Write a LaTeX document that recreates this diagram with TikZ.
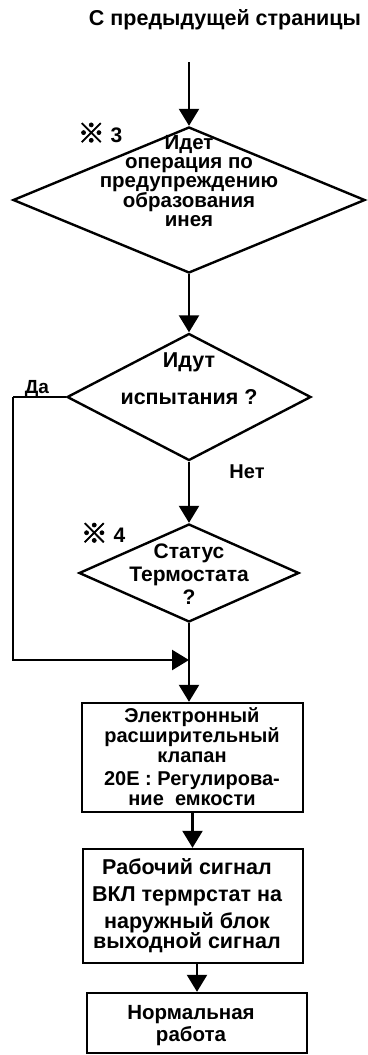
\documentclass[tikz,border=0pt]{standalone}
\usepackage{fontspec}
\setmainfont{Liberation Sans}
\newfontfamily\cjk[FakeBold=2.5]{Noto Sans CJK JP}
\usetikzlibrary{shapes.geometric,arrows.meta}
\tikzset{
  line/.style={line width=2.4pt},
  arr/.style={line width=2.4pt,-{Triangle[width=20pt,length=17pt]}},
  dia/.style={shape=diamond,draw,line width=2.4pt,inner sep=0pt},
  box/.style={draw,line width=2.4pt,inner sep=0pt},
  txt/.style={align=center,inner sep=0pt},
}
\newcommand{\refmark}{{\cjk\fontsize{27}{27}\selectfont ※}}
\begin{document}
\begin{tikzpicture}[x=1pt,y=-1pt]
\useasboundingbox (0,0) rectangle (367,1055);
% title
\node[txt,font=\fontsize{21.5}{25}\selectfont\bfseries] (title) at (225,20) {С предыдущей страницы};
\coordinate (start) at (189,62);
% diamond 1
\node[dia,minimum width=352pt,minimum height=146pt] (d1) at (189,200) {};
\node[txt,font=\fontsize{20.5}{19}\selectfont\bfseries] (t1) at (189,181) {Идет\\операция по\\предупреждению\\образования\\инея};
\node[txt,font=\fontsize{21}{22}\selectfont\bfseries] (n3) at (100,133) {\refmark\ 3};
% diamond 2
\node[dia,minimum width=244pt,minimum height=127pt] (d2) at (189,397) {};
\node[txt,font=\fontsize{21.5}{37}\selectfont\bfseries] (t2) at (189,379) {Идут\\испытания ?};
% diamond 3
\node[dia,minimum width=220pt,minimum height=98pt] (d3) at (189,573) {};
\node[txt,font=\fontsize{21}{23}\selectfont\bfseries] (t3) at (189,574) {Статус\\Термостата\\?};
\node[txt,font=\fontsize{21}{22}\selectfont\bfseries] (n4) at (103,533) {\refmark\ 4};
% boxes
\node[box,minimum width=221pt,minimum height=109pt] (b1) at (192.5,757.5) {};
\node[txt,font=\fontsize{20}{20}\selectfont\bfseries] (tb1) at (192,757) {Электронный\\расширительный\\клапан\\[3pt]20E : Регулирова-\\ние\ \ емкости};
\node[box,minimum width=220pt,minimum height=114pt] (b2) at (193,906) {};
\node[txt,font=\fontsize{21.5}{27}\selectfont\bfseries] (tb2) at (187,906) {Рабочий сигнал\\ВКЛ термрстат на\\наружный блок\\[-7pt]выходной сигнал};
\node[box,minimum width=220pt,minimum height=60pt] (b3) at (197,1023) {};
\node[txt,font=\fontsize{20.5}{22}\selectfont\bfseries] (tb3) at (191,1026) {Нормальная\\работа};
% labels
\node[txt,font=\fontsize{19}{20}\selectfont\bfseries,anchor=south] (da) at (37,397) {Да};
\node[txt,font=\fontsize{20}{20}\selectfont\bfseries] (net) at (247,472) {Нет};
% connectors
\coordinate (join) at (189,660);
\coordinate (lc) at (13,397);
\draw[arr] (start) -- (d1.north);
\draw[arr] (d1.south) -- (d2.north);
\draw[arr] (d2.south) -- (d3.north);
\draw[line] (d2.west) -- (lc);
\draw[arr] (lc) |- (join);
\draw[arr] (d3.south) -- (d3.south |- b1.north);
\draw[arr] (b1.south) -- (b1.south |- b2.north);
\draw[arr] (b3.north |- b2.south) -- (b3.north);
\end{tikzpicture}
\end{document}
